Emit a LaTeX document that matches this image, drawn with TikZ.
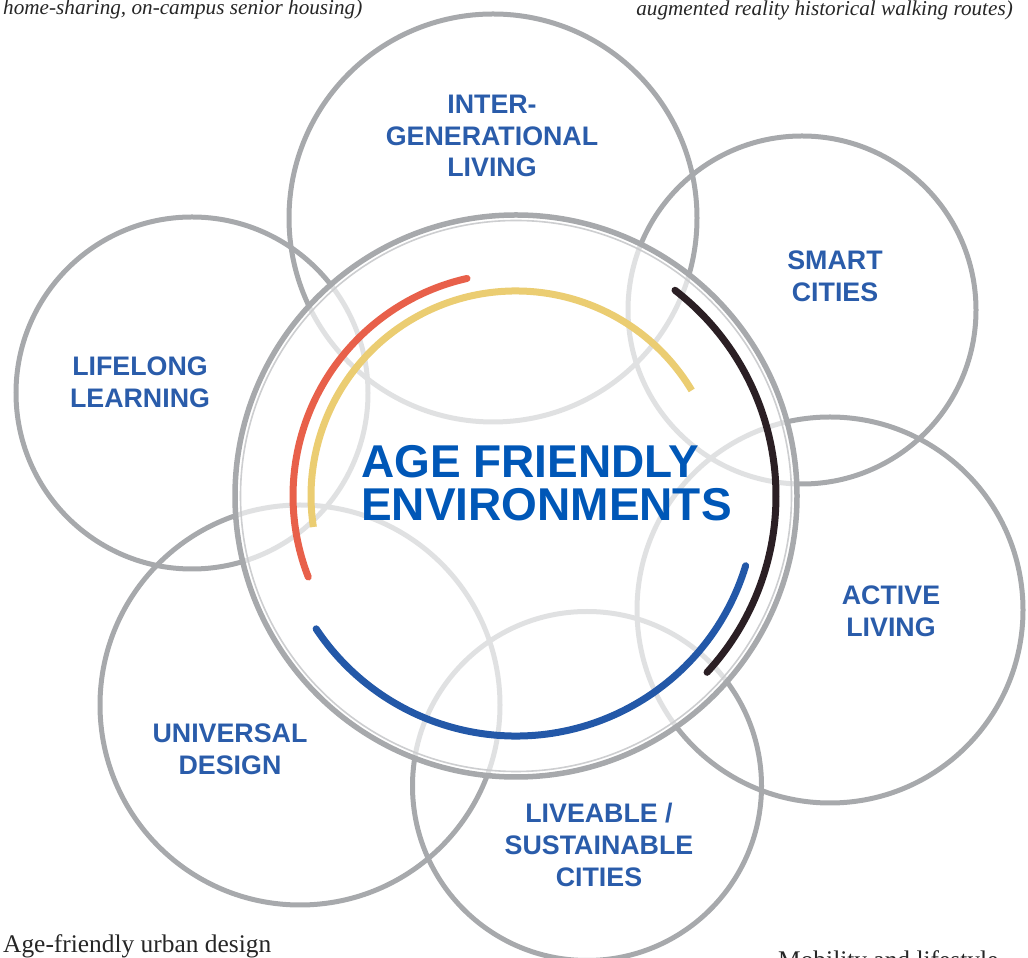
\documentclass[tikz,border=0pt]{standalone}
\usepackage{fontspec}
\setmainfont{Liberation Serif}
\newfontfamily\labelfont{Liberation Sans}
\definecolor{ringgray}{HTML}{A7A9AC}
\definecolor{thingray}{HTML}{CDCED0}
\definecolor{lblblue}{HTML}{2A5CAA}
\definecolor{titleblue}{HTML}{0057B7}
\definecolor{arcred}{HTML}{E8604A}
\definecolor{arcyellow}{HTML}{EBCD72}
\definecolor{arcblack}{HTML}{2B1F24}
\definecolor{arcblue}{HTML}{2358A8}
\tikzset{
  bubble/.style={circle, draw=ringgray, line width=5pt, inner sep=0pt, outer sep=0pt},
  lbl/.style={text=lblblue, align=center, inner sep=0pt, font=\labelfont\bfseries\fontsize{26.8}{31.7}\selectfont},
  arcline/.style={line width=7pt, line cap=round},
  note/.style={inner sep=0pt, text=black!85, font=\fontsize{21.2}{25}\selectfont\itshape},
  plain/.style={inner sep=0pt, text=black!85, font=\fontsize{25.4}{30}\selectfont}
}
\begin{document}
\begin{tikzpicture}[x=1pt,y=1pt]
\useasboundingbox (0,0) rectangle (1028,958);
\clip (0,0) rectangle (1028,958);
% surrounding circles
\node[bubble, minimum size=408pt] (inter) at (493,740) {};
\node[bubble, minimum size=348pt] (smart) at (802,648) {};
\node[bubble, minimum size=352pt] (life) at (192,565) {};
\node[bubble, minimum size=386pt] (active) at (830,348) {};
\node[bubble, minimum size=400pt] (univ) at (300,253) {};
\node[bubble, minimum size=349pt] (live) at (587,172) {};
% central disk fading what lies under it
\node[circle, fill=white, fill opacity=0.66, minimum size=562pt, inner sep=0pt] (centre) at (516,462) {};
\draw[ringgray, line width=5.5pt] (centre.center) circle[radius=281];
\draw[thingray, line width=1.6pt] (centre.center) circle[radius=275.5];
% coloured arcs
\draw[arcline, arcred] ([shift={(102.7:223)}]centre.center) arc[start angle=102.7, end angle=201.3, radius=223];
\draw[arcline, arcyellow, line cap=butt] ([shift={(31:205)}]centre.center) arc[start angle=31, end angle=188.7, radius=205];
\draw[arcline, arcblack] ([shift={(52.3:260)}]centre.center) arc[start angle=52.3, end angle=-42.7, radius=260];
\draw[arcline, arcblue] ([shift={(-16.9:240)}]centre.center) arc[start angle=-16.9, end angle=-146.4, radius=240];
% title
\node[anchor=west, inner sep=0pt, text=titleblue, align=left, font=\labelfont\bfseries\fontsize{46}{43}\selectfont] (title) at (361,475) {AGE FRIENDLY\\ENVIRONMENTS};
% labels
\node[lbl] (interlbl) at (492,822) {INTER-\\GENERATIONAL\\LIVING};
\node[lbl] (smartlbl) at (835,682) {SMART\\CITIES};
\node[lbl] (lifelbl) at (140,575.5) {LIFELONG\\LEARNING};
\node[lbl] (activelbl) at (891,346.5) {ACTIVE\\LIVING};
\node[lbl] (univlbl) at (230,209) {UNIVERSAL\\DESIGN};
\node[lbl] (livelbl) at (599,113) {LIVEABLE /\\SUSTAINABLE\\CITIES};
% cut-off corner texts
\node[note, anchor=base west] (tl) at (3,943) {home-sharing, on-campus senior housing)};
\node[note, anchor=base east] (tr) at (1013,942) {augmented reality historical walking routes)};
\node[plain, anchor=base west] (bl) at (3,5) {Age-friendly urban design};
\node[plain, anchor=base west] (br) at (778,-11) {Mobility and lifestyle};
\end{tikzpicture}
\end{document}
